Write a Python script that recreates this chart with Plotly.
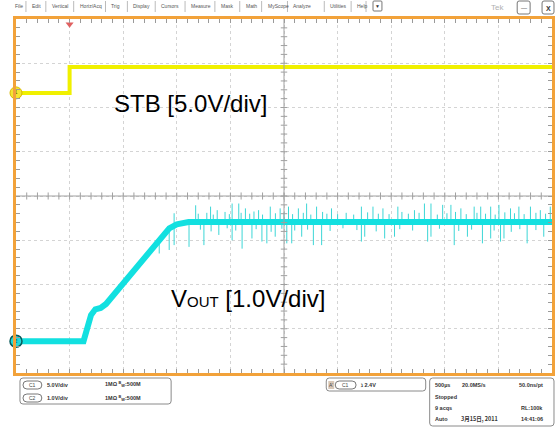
import plotly.graph_objects as go
import numpy as np

# ---------------- data (ms, volts) ----------------
stb_t = [0.0, 0.50, 0.50, 5.0]
stb_v = [0.0, 0.0, 2.94, 2.94]

vout_t = [0.0, 0.63, 0.70, 0.74, 0.79, 0.84, 1.43, 1.50, 1.61, 5.0]
vout_v = [0.0, 0.0, 0.59, 0.72, 0.75, 0.84, 2.55, 2.64, 2.69, 2.69]

spike_up_t = [1.475, 1.676, 1.815, 1.877, 2.016, 2.078, 2.140, 2.263, 2.372, 2.464, 2.542, 2.634,
              2.711, 2.804, 2.943, 3.222, 3.330, 3.423, 3.562, 3.717, 3.810, 3.871, 3.980, 4.057,
              4.150, 4.274, 4.335, 4.428, 4.505, 4.613, 4.691, 4.799, 4.891, 4.984,
              1.70, 1.78, 1.84, 1.95, 1.99, 2.10, 2.18, 2.22, 2.30, 2.42, 2.50, 2.58, 2.68, 2.75,
              2.86, 2.90, 3.00, 3.08, 3.15, 3.28, 3.38, 3.48, 3.60, 3.66, 3.76, 3.93, 4.02, 4.10,
              4.20, 4.30, 4.38, 4.47, 4.56, 4.65, 4.74, 4.85, 4.94]
spike_up_v = [2.89, 3.07, 3.04, 2.96, 3.11, 3.11, 3.00, 2.96, 3.04, 3.00, 3.04, 3.00,
              3.11, 3.04, 3.00, 3.04, 3.04, 3.00, 3.04, 2.96, 3.11, 3.11, 3.08, 3.08,
              3.00, 3.04, 3.04, 3.04, 3.08, 3.00, 3.04, 3.04, 2.96, 3.04,
              2.88, 2.90, 2.86, 2.92, 2.87, 2.90, 2.88, 2.93, 2.86, 2.89, 2.91, 2.87, 2.90, 2.86,
              2.92, 2.88, 2.87, 2.90, 2.86, 2.91, 2.88, 2.87, 2.92, 2.88, 2.90, 2.86, 2.89, 2.92,
              2.87, 2.90, 2.88, 2.86, 2.91, 2.89, 2.87, 2.90, 2.88]
spike_dn_t = [1.336, 1.429, 1.475, 1.614, 1.753, 1.892, 2.016, 2.109, 2.201, 2.294, 2.340, 2.418,
              2.526, 2.572, 2.665, 2.774, 2.851, 3.222, 3.253, 3.439, 3.531, 3.840, 3.871, 4.088,
              4.211, 4.351, 4.428, 4.520, 4.552, 4.768, 4.923,
              1.72, 1.82, 1.97, 2.05, 2.24, 2.38, 2.48, 2.60, 2.72, 2.93, 3.05, 3.18, 3.36, 3.58,
              3.70, 3.95, 4.13, 4.25, 4.46, 4.62, 4.70, 4.85]
spike_dn_v = [1.98, 2.06, 2.17, 2.13, 2.17, 2.40, 2.28, 2.09, 2.32, 2.25, 2.21, 2.36,
              2.21, 2.21, 2.36, 2.17, 2.17, 2.25, 2.36, 2.32, 2.36, 2.25, 2.36, 2.17,
              2.36, 2.21, 2.32, 2.25, 2.32, 2.21, 2.36,
              2.52, 2.48, 2.55, 2.50, 2.53, 2.47, 2.54, 2.50, 2.52, 2.49, 2.55, 2.51, 2.48, 2.53,
              2.50, 2.54, 2.49, 2.52, 2.50, 2.47, 2.53, 2.51]

ch1_vdiv, ch2_vdiv = 5.0, 1.0
ch1_pos, ch2_pos = 2.33, -3.28  # ground position, divisions from centre

menu_items = ["File", "Edit", "Vertical", "Horiz/Acq", "Trig", "Display", "Cursors", "Measure",
              "Mask", "Math", "MyScope", "Analyze", "Utilities", "Help"]
menu_x = [13, 30, 50, 78, 110, 132, 160, 190, 220, 245, 267, 293, 330, 357]

# ---------------- geometry helpers ----------------
W, H = 559, 427
L, R, T, B = 16, 555, 19, 373
def X(px): return (px - L) / (R - L)
def Y(py): return (B - py) / (B - T)

ORANGE = "#F2A23A"
YEL = "#F0F000"
CYAN = "#12E0E0"
FONT = "Liberation Sans, Arial, sans-serif"

fig = go.Figure()

# STB trace
fig.add_trace(go.Scatter(x=stb_t, y=stb_v, mode="lines", yaxis="y2",
                         line=dict(color=YEL, width=4), hoverinfo="skip"))
# spikes
sx, sy = [], []
for t, v in list(zip(spike_up_t, spike_up_v)) + list(zip(spike_dn_t, spike_dn_v)):
    base = float(np.interp(t, vout_t, vout_v))
    sx += [t, t, None]
    sy += [base, v, None]
fig.add_trace(go.Scatter(x=sx, y=sy, mode="lines", yaxis="y",
                         line=dict(color="#3CD6D6", width=1), hoverinfo="skip"))
# VOUT trace
fig.add_trace(go.Scatter(x=vout_t, y=vout_v, mode="lines", yaxis="y",
                         line=dict(color=CYAN, width=6), hoverinfo="skip"))

# channel markers
fig.add_trace(go.Scatter(x=[0], y=[0], yaxis="y2", mode="markers+text", text=["1"],
                         textfont=dict(size=6, color="#665500", family=FONT),
                         marker=dict(size=12, color="#F4E630", line=dict(color="#D8B800", width=1)),
                         cliponaxis=False, hoverinfo="skip"))
fig.add_trace(go.Scatter(x=[0], y=[0], yaxis="y", mode="markers+text", text=["2"],
                         textfont=dict(size=6, color="#004848", family=FONT),
                         marker=dict(size=12, color="#20D8D8", line=dict(color="#0A5A5A", width=1.5)),
                         cliponaxis=False, hoverinfo="skip"))
# trigger marker
fig.add_trace(go.Scatter(x=[stb_t[1]], y=[3.88], yaxis="y3", mode="markers",
                         marker=dict(symbol="triangle-down", size=7, color="#E06060"),
                         cliponaxis=False, hoverinfo="skip"))

shapes = []
# centre cross
shapes.append(dict(type="line", xref="x", yref="paper", x0=2.5, x1=2.5, y0=0, y1=1,
                   line=dict(color="#A0A0A0", width=1)))
shapes.append(dict(type="line", xref="paper", yref="y3", x0=0, x1=1, y0=0, y1=0,
                   line=dict(color="#A0A0A0", width=1)))
for i in range(1, 50):
    tx = i * 0.1
    shapes.append(dict(type="line", xref="x", yref="y3", x0=tx, x1=tx, y0=-0.08, y1=0.08,
                       line=dict(color="#A0A0A0", width=1)))
for i in range(1, 40):
    ty = -4 + i * 0.2
    shapes.append(dict(type="line", xref="x", yref="y3", x0=2.47, x1=2.53, y0=ty, y1=ty,
                       line=dict(color="#A0A0A0", width=1)))

def rrect(x0, y0, x1, y1, r):
    a0, a1 = X(x0), X(x1)
    b0, b1 = Y(y0), Y(y1)
    rx = r / (R - L)
    ry = r / (B - T)
    return (f"M {a0+rx},{b0} L {a1-rx},{b0} Q {a1},{b0} {a1},{b0-ry} L {a1},{b1+ry} "
            f"Q {a1},{b1} {a1-rx},{b1} L {a0+rx},{b1} Q {a0},{b1} {a0},{b1+ry} "
            f"L {a0},{b0-ry} Q {a0},{b0} {a0+rx},{b0} Z")

def box(x0, y0, x1, y1, r=3, color="#8a8a8a", fill="rgba(0,0,0,0)", w=1):
    shapes.append(dict(type="path", xref="paper", yref="paper", path=rrect(x0, y0, x1, y1, r),
                       line=dict(color=color, width=w), fillcolor=fill))

annotations = []
def txt(px, py, s, size=6, color="#333", anchor="left", bold=False, family=FONT):
    annotations.append(dict(xref="paper", yref="paper", x=X(px), y=Y(py), text=(f"<b>{s}</b>" if bold else s),
                            showarrow=False, xanchor=anchor, yanchor="middle",
                            font=dict(size=size, color=color, family=family)))

# menu bar
for i, (name, mx) in enumerate(zip(menu_items, menu_x)):
    txt(mx, 6, name, size=5, color="#555")
    nxt = menu_x[i + 1] if i + 1 < len(menu_x) else 372
    sep = nxt - 4
    shapes.append(dict(type="line", xref="paper", yref="paper", x0=X(sep), x1=X(sep),
                       y0=Y(1), y1=Y(12), line=dict(color="#bbbbbb", width=1)))
box(375, 1, 384, 11, r=1, color="#777")
txt(379.5, 6, "▼", size=5, color="#333", anchor="center")
txt(500, 7, "Tek", size=8, color="#b0b0b0", anchor="center")
box(520, 1, 533, 14, r=2, color="#777")
txt(526.5, 8, "—", size=6, color="#333", anchor="center")
box(545, 1, 557, 14, r=2, color="#777")
txt(551, 8, "X", size=7, color="#333", anchor="center", bold=True)

# bottom panels
box(20, 378, 172, 404, r=3)
box(23, 381, 42, 389, r=4, color="#777")
box(23, 394, 42, 402, r=4, color="#777")
txt(32.5, 385, "C1", size=5, color="#444", anchor="center")
txt(32.5, 398, "C2", size=5, color="#444", anchor="center")
txt(45, 385, "5.0V/div", size=5.5, bold=True)
txt(45, 398, "1.0V/div", size=5.5, bold=True)
txt(103, 385, "1MΩ <sup>B</sup><sub>W</sub>:500M", size=5.5, bold=True)
txt(103, 398, "1MΩ <sup>B</sup><sub>W</sub>:500M", size=5.5, bold=True)

box(328, 378, 428, 391, r=3)
shapes.append(dict(type="rect", xref="paper", yref="paper", x0=X(330), x1=X(336), y0=Y(381), y1=Y(389),
                   fillcolor="#d8c8b8", line=dict(width=0)))
txt(333, 385, "A'", size=5, color="#444", anchor="center")
box(337, 381, 358, 389, r=4, color="#777")
txt(347.5, 385, "C1", size=5, color="#444", anchor="center")
txt(360, 385, "ℷ 2.4V", size=5.5, bold=True)

box(432, 378, 557, 426, r=3)
txt(435, 385, "500µs", size=5.5, bold=True)
txt(462, 385, "20.0MS/s", size=5.5, bold=True)
txt(548, 385, "50.0ns/pt", size=5.5, bold=True, anchor="right")
txt(435, 397, "Stopped", size=5.5, bold=True)
txt(435, 408, "9 acqs", size=5.5, bold=True)
txt(548, 408, "RL:100k", size=5.5, bold=True, anchor="right")
txt(435, 419, "Auto", size=5.5, bold=True)
txt(461, 419, "3月15日, 2011", size=5.5, bold=True, family="Noto Sans CJK SC, " + FONT)
txt(548, 419, "14:41:06", size=5.5, bold=True, anchor="right")

# channel labels
annotations.append(dict(xref="paper", yref="paper", x=X(113), y=Y(104), xanchor="left", yanchor="middle",
                        text="STB [5.0V/div]", showarrow=False,
                        font=dict(size=24, color="#000", family=FONT)))
annotations.append(dict(xref="paper", yref="paper", x=X(170), y=Y(298), xanchor="left", yanchor="middle",
                        text="V<span style='font-size:15px'>OUT</span> [1.0V/div]", showarrow=False,
                        font=dict(size=24, color="#000", family=FONT)))

axis_common = dict(showticklabels=False, zeroline=False, fixedrange=True)

fig.update_layout(
    width=W, height=H, autosize=False,
    margin=dict(l=L, r=W - R, t=T, b=H - B, pad=0),
    paper_bgcolor="white", plot_bgcolor="white",
    showlegend=False,
    xaxis=dict(range=[0, 5], dtick=0.5, tick0=0, showgrid=True, gridcolor="#d4d4d4", griddash="dot",
               gridwidth=1, showline=True, linecolor=ORANGE, linewidth=3, mirror="ticks",
               ticks="inside", ticklen=4, tickcolor="#9a9a9a", tickwidth=1,
               minor=dict(dtick=0.1, ticks="inside", ticklen=4, tickcolor="#9a9a9a", showgrid=False),
               **axis_common),
    yaxis=dict(range=[(-4 - ch2_pos) * ch2_vdiv, (4 - ch2_pos) * ch2_vdiv], showgrid=False,
               showline=False, **axis_common),
    yaxis2=dict(range=[(-4 - ch1_pos) * ch1_vdiv, (4 - ch1_pos) * ch1_vdiv], overlaying="y",
                showgrid=False, showline=False, **axis_common),
    yaxis3=dict(range=[-4, 4], dtick=1, tick0=0, overlaying="y", showgrid=True, gridcolor="#d4d4d4",
                griddash="dot", gridwidth=1, showline=True, linecolor=ORANGE, linewidth=3, mirror="ticks",
                ticks="inside", ticklen=4, tickcolor="#9a9a9a", tickwidth=1,
                minor=dict(dtick=0.2, ticks="inside", ticklen=4, tickcolor="#9a9a9a", showgrid=False),
                **axis_common),
    shapes=shapes,
    annotations=annotations,
)

fig.write_html("out.html", config={"displayModeBar": False},
               post_script="document.body.style.margin='0';document.body.style.overflow='hidden';")
